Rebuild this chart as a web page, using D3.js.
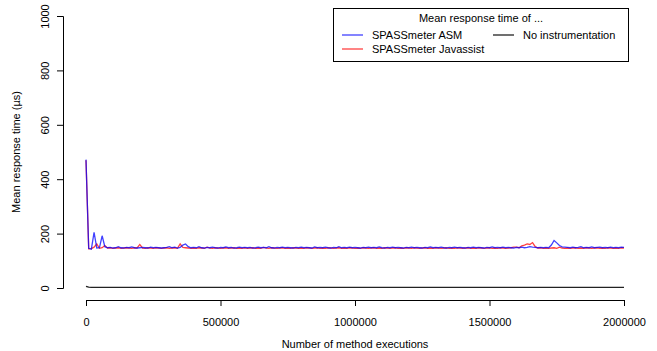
<!DOCTYPE html>
<html><head><meta charset="utf-8">
<script src="https://cdn.jsdelivr.net/npm/d3@7/dist/d3.min.js"></script>
<style>body{margin:0;background:#fff}svg{display:block;font-family:"Liberation Sans",Arial,sans-serif}</style>
</head><body><svg id="c" width="657" height="351"></svg>
<script>
const executions = d3.range(0, 2000001, 10000);
const asm = [
472,146,143,205,147,148,192,152,148,149,147,148,152,148,147,149,148,151,148,147,
148,149,148,147,150,148,149,148,147,148,149,152,148,150,147,149,158,162,152,148,
149,148,152,148,147,149,148,150,148,147,149,148,151,148,149,147,148,150,148,149,
148,149,147,148,150,148,149,148,152,148,147,149,148,150,148,149,148,147,149,148,
150,148,149,148,147,151,148,149,148,150,148,147,149,148,152,148,149,148,150,148,
149,148,147,149,148,150,148,149,148,151,148,147,149,148,150,148,149,148,147,149,
148,150,148,149,148,147,149,148,151,148,149,148,150,148,147,149,148,150,148,149,
148,147,149,148,150,148,149,148,147,149,148,151,148,149,148,150,148,149,148,147,
149,148,150,148,149,152,150,149,148,149,148,149,148,158,175,166,156,151,150,149,
148,150,148,149,152,148,149,148,151,148,149,150,148,149,148,150,148,149,148,150,
149];
const javassist = [
470,144,145,150,162,146,148,156,147,148,146,147,148,146,147,148,147,146,148,147,
160,147,146,148,147,146,148,147,146,147,148,146,147,148,146,162,149,148,147,146,
147,146,148,147,146,150,147,146,148,147,146,147,148,146,147,148,146,147,146,148,
146,147,148,146,147,146,149,147,146,148,147,146,147,148,146,147,146,148,147,146,
147,146,148,147,146,147,148,146,147,146,148,147,146,147,148,146,147,146,148,147,
146,147,146,148,147,146,147,148,146,147,146,148,147,146,147,148,146,147,146,148,
147,146,148,147,146,147,148,146,147,146,148,147,146,147,148,146,147,146,148,147,
146,147,148,146,147,146,148,147,146,147,148,146,147,146,148,147,146,147,148,150,
150,148,155,158,162,160,167,152,147,148,146,147,146,147,148,146,150,147,146,147,
146,147,148,146,147,146,148,147,146,147,148,146,147,146,148,147,146,147,146,148,
147];
const noInstrX = [0, 10000, 20000, 2000000];
const noInstr = [6, 3, 2, 2];
const xTicks = [0, 500000, 1000000, 1500000, 2000000];
const yTicks = [0, 200, 400, 600, 800, 1000];
const legendTitle = "Mean response time of ...";
const seriesNames = ["SPASSmeter ASM", "SPASSmeter Javassist", "No instrumentation"];
const seriesColors = ["rgba(0,0,255,0.75)", "rgba(255,0,0,0.75)", "#222"];

const svg = d3.select("#c");
const x = d3.scaleLinear().domain([0, 2000000]).range([86, 624]);
const y = d3.scaleLinear().domain([0, 1000]).range([288, 16]);

// y axis
const ya = svg.append("g").attr("transform", "translate(63,0)")
  .call(d3.axisLeft(y).tickValues(yTicks).tickSize(6).tickFormat(d3.format("d")));
ya.select(".domain").attr("stroke", "#000");
ya.selectAll("text").attr("font-size", 11).attr("fill", "#000")
  .attr("transform", d => `rotate(-90) `).attr("x", d => -y(d)).attr("y", d => y(d) - 3 - y(d) ).attr("dy", 0)
  .attr("text-anchor", "middle");
ya.selectAll(".tick").each(function(d){
  d3.select(this).select("text").attr("transform", null).attr("x", null).attr("y", null)
    .attr("transform", "translate(-14,0) rotate(-90)").attr("text-anchor", "middle").attr("dy", 0);
});
ya.attr("font-family", null);

// x axis
const xa = svg.append("g").attr("transform", "translate(0,300)")
  .call(d3.axisBottom(x).tickValues(xTicks).tickSize(6).tickFormat(d3.format("d")));
xa.select(".domain").attr("stroke", "#000");
xa.selectAll("text").attr("font-size", 11).attr("fill", "#000").attr("dy", "1.5em");
xa.attr("font-family", null);

// titles
svg.append("text").attr("x", 355).attr("y", 348).attr("text-anchor", "middle")
  .attr("font-size", 11).text("Number of method executions");
svg.append("text").attr("transform", "translate(20,152) rotate(-90)").attr("text-anchor", "middle")
  .attr("font-size", 11).text("Mean response time (µs)");

// lines
const line = d3.line().x(d => x(d[0])).y(d => y(d[1]));
svg.append("path").datum(noInstrX.map((v,i)=>[v,noInstr[i]]))
  .attr("d", line).attr("fill","none").attr("stroke", seriesColors[2]).attr("stroke-width",1.2);
svg.append("path").datum(executions.map((v,i)=>[v,javassist[i]]))
  .attr("d", line).attr("fill","none").attr("stroke", seriesColors[1]).attr("stroke-width",1.3);
svg.append("path").datum(executions.map((v,i)=>[v,asm[i]]))
  .attr("d", line).attr("fill","none").attr("stroke", seriesColors[0]).attr("stroke-width",1.3);

// legend
const lg = svg.append("g");
lg.append("rect").attr("x", 333.5).attr("y", 8.5).attr("width", 295).attr("height", 53)
  .attr("fill", "#fff").attr("stroke", "#000");
lg.append("text").attr("x", 481).attr("y", 22).attr("text-anchor", "middle").attr("font-size", 11).text(legendTitle);
const entries = [[342, 35], [342, 49], [493, 35]];
entries.forEach((p, i) => {
  lg.append("line").attr("x1", p[0]).attr("x2", p[0] + 21).attr("y1", p[1]).attr("y2", p[1])
    .attr("stroke", seriesColors[i]).attr("stroke-width", 1.3);
  lg.append("text").attr("x", p[0] + 30).attr("y", p[1] + 4).attr("font-size", 11).text(seriesNames[i]);
});
</script></body></html>
